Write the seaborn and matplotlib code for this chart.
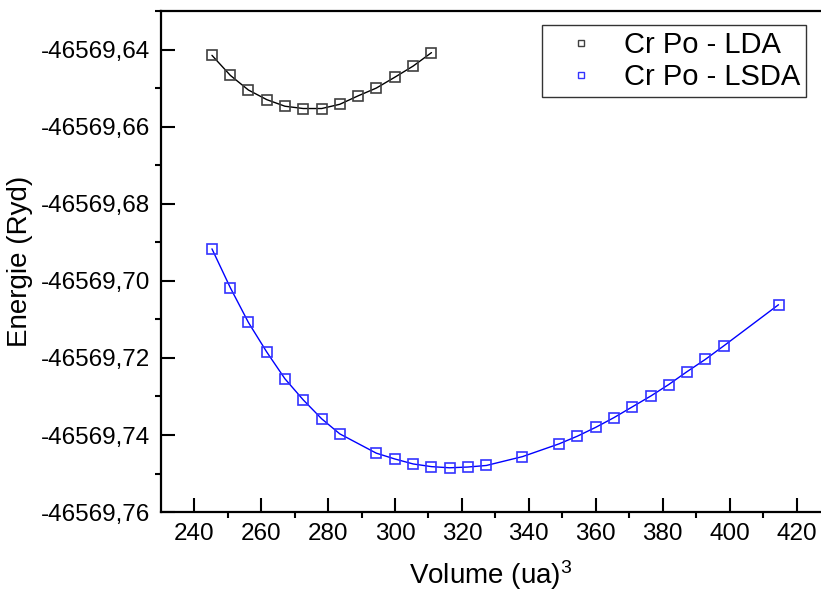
import matplotlib
matplotlib.use("Agg")
import matplotlib.pyplot as plt
import seaborn as sns
import numpy as np
import pandas as pd
from matplotlib.ticker import MultipleLocator, FuncFormatter
from matplotlib.lines import Line2D

# ---- data ----
vol_lda = [245.3, 250.8, 256.2, 261.7, 267.1, 272.6, 278.1, 283.5, 289.0,
           294.4, 299.9, 305.4, 310.9]
e_lda = [-46569.6415, -46569.6467, -46569.6505, -46569.6530, -46569.6547,
         -46569.6553, -46569.6553, -46569.6542, -46569.6520, -46569.6500,
         -46569.6472, -46569.6443, -46569.6408]

vol_lsda = [245.3, 250.8, 256.2, 261.7, 267.1, 272.6, 278.1, 283.5,
            294.4, 299.9, 305.4, 310.9, 316.3, 321.8, 327.3,
            338.1, 349.0, 354.5, 360.0, 365.4, 370.9, 376.4, 381.8,
            387.2, 392.7, 398.2, 414.6]
e_lsda = [-46569.6917, -46569.7018, -46569.7108, -46569.7185, -46569.7254,
          -46569.7309, -46569.7358, -46569.7397,
          -46569.7447, -46569.7462, -46569.7475, -46569.7482, -46569.7485,
          -46569.7483, -46569.7479,
          -46569.7456, -46569.7423, -46569.7403, -46569.7380, -46569.7355,
          -46569.7327, -46569.7299, -46569.7269, -46569.7236, -46569.7204,
          -46569.7169, -46569.7062]

labels = ["Cr Po - LDA", "Cr Po - LSDA"]
colors = ["#000000", "#0000ff"]
edge_colors = ["#404040", "#3333ff"]

sns.set_theme(style="ticks")
plt.rcParams["font.family"] = ["Liberation Sans", "DejaVu Sans"]
plt.rcParams["mathtext.fontset"] = "custom"
plt.rcParams["mathtext.rm"] = "Liberation Sans"
plt.rcParams["mathtext.it"] = "Liberation Sans"
plt.rcParams["text.color"] = "black"
plt.rcParams["axes.labelcolor"] = "black"
plt.rcParams["xtick.color"] = "black"
plt.rcParams["ytick.color"] = "black"

fig = plt.figure(figsize=(8.21, 5.90), dpi=100)
ax = fig.add_axes([0.196, 0.132, 0.804, 0.850])

for vols, es, lab, c, ec in [(vol_lda, e_lda, labels[0], colors[0], edge_colors[0]),
                             (vol_lsda, e_lsda, labels[1], colors[1], edge_colors[1])]:
    df = pd.DataFrame({"Volume": vols, "Energie": es})
    sns.lineplot(data=df, x="Volume", y="Energie", ax=ax, color=c, linewidth=1.0,
                 marker="s", markersize=7.3, markerfacecolor="none",
                 markeredgecolor=ec, markeredgewidth=1.2, sort=True,
                 estimator=None)

ax.set_xlim(230.05, 427.3)
ax.set_ylim(-46569.76, -46569.6299)

ax.xaxis.set_major_locator(MultipleLocator(20))
ax.xaxis.set_minor_locator(MultipleLocator(10))
ax.yaxis.set_major_locator(MultipleLocator(0.02))
ax.yaxis.set_minor_locator(MultipleLocator(0.01))
ax.yaxis.set_major_formatter(FuncFormatter(lambda v, p: ("%.2f" % v).replace(".", ",")))
ax.xaxis.set_major_formatter(FuncFormatter(lambda v, p: "%d" % round(v)))

ax.tick_params(axis="both", which="major", direction="in", length=10, width=1.5,
               labelsize=17.5, colors="black", pad=8)
ax.tick_params(axis="both", which="minor", direction="out", length=4, width=1.5)
ax.tick_params(axis="x", which="both", top=False)
ax.tick_params(axis="y", which="both", right=False)

for s in ["left", "bottom", "top"]:
    ax.spines[s].set_linewidth(1.6)
    ax.spines[s].set_color("black")
ax.spines["right"].set_visible(False)

ax.set_xlabel("Volume (ua)$^{3}$", fontsize=20, labelpad=9, color="black")
ax.set_ylabel("Energie (Ryd)", fontsize=20, labelpad=5, color="black")

handles = [Line2D([], [], linestyle="none", marker="s", markersize=5,
                  markerfacecolor="none", markeredgecolor=ec, markeredgewidth=1.0)
           for ec in edge_colors]
leg = ax.legend(handles, labels, loc="upper right", bbox_to_anchor=(0.977, 0.9715),
                fontsize=21, frameon=True, fancybox=False, edgecolor="black",
                borderpad=0.2, labelspacing=0.15, handletextpad=0.37,
                handlelength=2.22, borderaxespad=0)
leg.get_frame().set_linewidth(1.0)
for t in leg.get_texts():
    t.set_color("black")

fig.savefig("out.png", dpi=100)
